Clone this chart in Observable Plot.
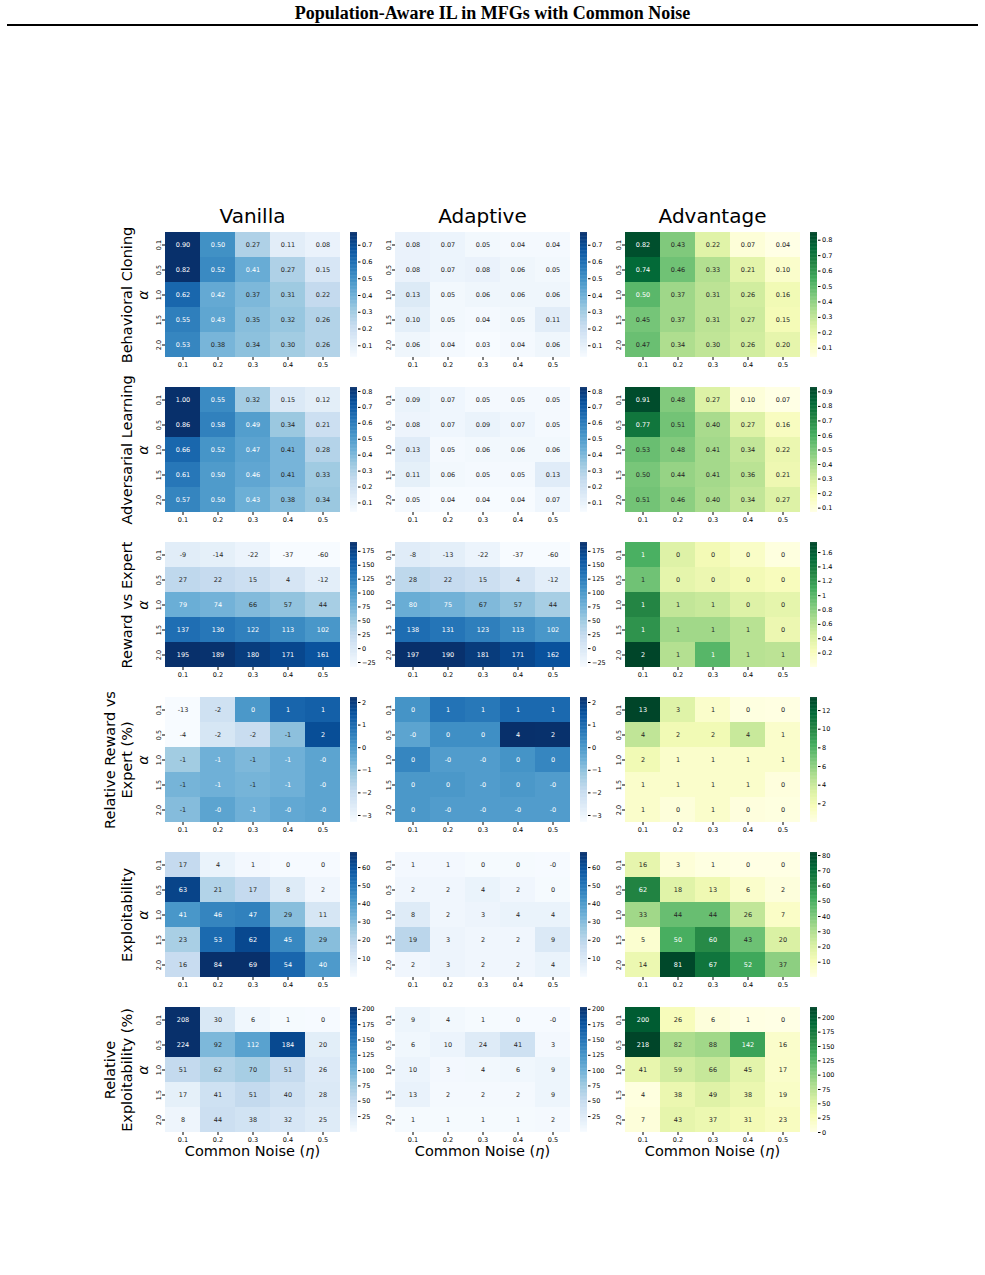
<!DOCTYPE html>
<html>
<head>
<meta charset="utf-8">
<script src="https://cdn.jsdelivr.net/npm/d3@7"></script>
<script src="https://cdn.jsdelivr.net/npm/@observablehq/plot@0.6"></script>
<style>
  body { margin: 0; background: #fff; }
  #page { position: relative; width: 985px; height: 1275px; overflow: hidden; font-family: "DejaVu Sans", sans-serif; color: #000; }
  #page svg { position: absolute; overflow: visible; }
  .lbl { position: absolute; white-space: nowrap; line-height: 1; transform: translate(-50%, -50%); }
  .rot { position: absolute; white-space: nowrap; text-align: center; transform: translate(-50%, -50%) rotate(-90deg); }
  #title { position: absolute; left: 0; width: 985px; top: 3px; text-align: center; font-family: "Liberation Serif", "Times New Roman", serif; font-weight: bold; font-size: 18px; }
  #rule { position: absolute; left: 7px; width: 971px; top: 24px; height: 2px; background: #000; }
</style>
</head>
<body>
<div id="page">
  <div id="title">Population-Aware IL in MFGs with Common Noise</div>
  <div id="rule"></div>
</div>
<script>
// Axis categories
const etas = ["0.1", "0.2", "0.3", "0.4", "0.5"];
const alphas = ["0.1", "0.5", "1.0", "1.5", "2.0"];
const methods = ["Vanilla", "Adaptive", "Advantage"];
const metricNames = [
  ["Behavioral Cloning"],
  ["Adversarial Learning"],
  ["Reward vs Expert"],
  ["Relative Reward vs", "Expert (%)"],
  ["Exploitability"],
  ["Relative", "Exploitability (%)"]
];

// Behavioral cloning (rows: alpha, columns: eta)
const bcVanilla = [[0.90,0.50,0.27,0.11,0.08],[0.82,0.52,0.41,0.27,0.15],[0.62,0.42,0.37,0.31,0.22],[0.55,0.43,0.35,0.32,0.26],[0.53,0.38,0.34,0.30,0.26]];
const bcAdaptive = [[0.08,0.07,0.05,0.04,0.04],[0.08,0.07,0.08,0.06,0.05],[0.13,0.05,0.06,0.06,0.06],[0.10,0.05,0.04,0.05,0.11],[0.06,0.04,0.03,0.04,0.06]];
const bcAdvantage = [[0.82,0.43,0.22,0.07,0.04],[0.74,0.46,0.33,0.21,0.10],[0.50,0.37,0.31,0.26,0.16],[0.45,0.37,0.31,0.27,0.15],[0.47,0.34,0.30,0.26,0.20]];

// Adversarial learning
const alVanilla = [[1.00,0.55,0.32,0.15,0.12],[0.86,0.58,0.49,0.34,0.21],[0.66,0.52,0.47,0.41,0.28],[0.61,0.50,0.46,0.41,0.33],[0.57,0.50,0.43,0.38,0.34]];
const alAdaptive = [[0.09,0.07,0.05,0.05,0.05],[0.08,0.07,0.09,0.07,0.05],[0.13,0.05,0.06,0.06,0.06],[0.11,0.06,0.05,0.05,0.13],[0.05,0.04,0.04,0.04,0.07]];
const alAdvantage = [[0.91,0.48,0.27,0.10,0.07],[0.77,0.51,0.40,0.27,0.16],[0.53,0.48,0.41,0.34,0.22],[0.50,0.44,0.41,0.36,0.21],[0.51,0.46,0.40,0.34,0.27]];

// Reward vs expert
const rwVanilla = [[-9,-14,-22,-37,-60],[27,22,15,4,-12],[79,74,66,57,44],[137,130,122,113,102],[195,189,180,171,161]];
const rwAdaptive = [[-8,-13,-22,-37,-60],[28,22,15,4,-12],[80,75,67,57,44],[138,131,123,113,102],[197,190,181,171,162]];
const rwAdvantage = [[1.05,0.40,0.25,0.15,0.03],[0.90,0.35,0.30,0.25,0.20],[1.30,0.55,0.52,0.40,0.35],[1.22,0.70,0.70,0.60,0.30],[1.74,0.62,1.00,0.60,0.58]];

// Relative reward vs expert (%)
const rrVanilla = [[-13.2,-2.2,0.0,1.1,1.2],[-4.1,-2.4,-2.0,-1.0,1.6],[-1.3,-0.6,-0.8,-0.6,-0.3],[-0.7,-0.6,-0.7,-0.6,-0.3],[-0.9,-0.3,-0.6,-0.4,-0.3]];
const rrAdaptive = [[0.1,0.8,0.7,1.0,1.0],[-0.3,0.2,0.2,4.0,2.2],[0.4,-0.1,-0.1,0.1,0.4],[0.0,0.0,-0.1,0.0,-0.1],[0.0,-0.1,-0.1,-0.1,-0.1]];
const rrAdvantage = [[13.4,3.0,1.0,0.2,0.1],[4.3,2.0,2.0,4.0,1.0],[2.0,1.0,1.0,1.0,1.0],[1.0,1.0,1.0,1.0,0.3],[1.0,0.4,1.0,0.3,0.2]];

// Exploitability
const exVanilla = [[17,4,1,0,0],[63,21,17,8,2],[41,46,47,29,11],[23,53,62,45,29],[16,84,69,54,40]];
const exAdaptive = [[1,1,0.3,0.3,-0.2],[2,2,4,2,0.3],[8,2,3,4,4],[19,3,2,2,9],[2,3,2,2,4]];
const exAdvantage = [[16,3,1,0.3,0.2],[62,18,13,6,2],[33,44,44,26,7],[5,50,60,43,20],[14,81,67,52,37]];

// Relative exploitability (%)
const reVanilla = [[208,30,6,1,0.3],[224,92,112,184,20],[51,62,70,51,26],[17,41,51,40,28],[8,44,38,32,25]];
const reAdaptive = [[9,4,1,0.3,-0.2],[6,10,24,41,3],[10,3,4,6,9],[13,2,2,2,9],[1,1,1,1,2]];
const reAdvantage = [[200,26,6,1,0.2],[218,82,88,142,16],[41,59,66,45,17],[4,38,49,38,19],[7,43,37,31,23]];

// Colour-bar ranges and tick values (Vanilla/Adaptive share one range per metric)
const sharedDomains = [[0.03,0.776],[0.04,0.825],[-34,191],[-3.31,2.22],[-0.5,68.3],[-1,203]];
const advantageDomains = [[0.04,0.85],[0.07,0.93],[0.0,1.74],[0.0,13.4],[0,82],[0,218]];
const sharedTicks = [
  [0.1,0.2,0.3,0.4,0.5,0.6,0.7],
  [0.1,0.2,0.3,0.4,0.5,0.6,0.7,0.8],
  [-25,0,25,50,75,100,125,150,175],
  [-3,-2,-1,0,1,2],
  [10,20,30,40,50,60],
  [25,50,75,100,125,150,175,200]
];
const advantageTicks = [
  [0.1,0.2,0.3,0.4,0.5,0.6,0.7,0.8],
  [0.1,0.2,0.3,0.4,0.5,0.6,0.7,0.8,0.9],
  [0.2,0.4,0.6,0.8,1.0,1.2,1.4,1.6],
  [2,4,6,8,10,12],
  [10,20,30,40,50,60,70,80],
  [0,25,50,75,100,125,150,175,200]
];
const decimals = [2, 2, 0, 0, 0, 0];

// Nine-step sequential palettes, interpolated linearly in RGB
const bluesColors = ["#f7fbff","#deebf7","#c6dbef","#9ecae1","#6baed6","#4292c6","#2171b5","#08519c","#08306b"];
const ylgnColors = ["#ffffe5","#f7fcb9","#d9f0a3","#addd8e","#78c679","#41ab5d","#238443","#006837","#004529"];

const metricValues = [
  [bcVanilla, bcAdaptive, bcAdvantage],
  [alVanilla, alAdaptive, alAdvantage],
  [rwVanilla, rwAdaptive, rwAdvantage],
  [rrVanilla, rrAdaptive, rrAdvantage],
  [exVanilla, exAdaptive, exAdvantage],
  [reVanilla, reAdaptive, reAdvantage]
];

// Layout
const gridLeft = 165, colStep = 230, gridTop = 232, rowStep = 155;
const gridW = 175, gridH = 125;
const hm = {top: 2, right: 2, bottom: 20, left: 22};
const cbW = 7, cbGap = 10;

const page = document.getElementById("page");
const FONT = "DejaVu Sans, sans-serif";

function luminance(c) {
  const f = x => { x /= 255; return x <= 0.03928 ? x / 12.92 : Math.pow((x + 0.055) / 1.055, 2.4); };
  return 0.2126 * f(c.r) + 0.7152 * f(c.g) + 0.0722 * f(c.b);
}

// Colour scale options: palette stops spread evenly across the domain
function colorOptions(domain, colors) {
  const stops = colors.map((_, i) => domain[0] + (domain[1] - domain[0]) * i / (colors.length - 1));
  return {type: "linear", domain: stops, range: colors, interpolate: "rgb", clamp: true};
}

function place(svg, left, top) {
  svg.style.left = left + "px";
  svg.style.top = top + "px";
  page.appendChild(svg);
}

function heatmap(values, domain, colors, digits, left, top) {
  const cells = values.flatMap((row, i) => row.map((v, j) => ({alpha: alphas[i], eta: etas[j], v})));
  const color = colorOptions(domain, colors);
  const lookup = d3.scaleLinear(color.domain, color.range).interpolate(d3.interpolateRgb).clamp(true);
  const darkCell = d => luminance(d3.rgb(lookup(d.v))) <= 0.408;
  const label = d => d.v.toFixed(digits);
  const svg = Plot.plot({
    width: gridW + hm.left + hm.right,
    height: gridH + hm.top + hm.bottom,
    marginTop: hm.top, marginRight: hm.right, marginBottom: hm.bottom, marginLeft: hm.left,
    style: {fontFamily: FONT, fontSize: "6.5px", background: "transparent", color: "#000"},
    x: {type: "band", domain: etas, padding: 0},
    y: {type: "band", domain: alphas, padding: 0},
    color,
    marks: [
      Plot.cell(cells, {x: "eta", y: "alpha", fill: "v", inset: 0}),
      Plot.text(cells.filter(darkCell), {x: "eta", y: "alpha", text: label, fill: "white", fontSize: 6.5}),
      Plot.text(cells.filter(d => !darkCell(d)), {x: "eta", y: "alpha", text: label, fill: "#262626", fontSize: 6.5}),
      Plot.axisX({tickSize: 3, tickPadding: 2, label: null}),
      Plot.axisY({tickSize: 3, tickPadding: 2, tickRotate: -90, label: null})
    ]
  });
  place(svg, left - hm.left, top - hm.top);
}

function colorbar(domain, colors, ticks, left, top) {
  const n = 160;
  const step = (domain[1] - domain[0]) / n;
  const stops = d3.range(n).map(i => domain[0] + i * step);
  const svg = Plot.plot({
    width: cbW + 30, height: gridH + hm.top + hm.bottom,
    marginTop: hm.top, marginBottom: hm.bottom, marginLeft: 0, marginRight: 30,
    style: {fontFamily: FONT, fontSize: "6.5px", background: "transparent", color: "#000"},
    x: {domain: [0, 1], axis: null},
    y: {domain, axis: null},
    color: colorOptions(domain, colors),
    marks: [
      Plot.rect(stops, {x1: 0, x2: 1, y1: d => d, y2: d => Math.min(d + step * 1.6, domain[1]), fill: d => d + step / 2}),
      Plot.axisY(ticks, {anchor: "right", tickSize: 2.5, tickPadding: 2, label: null, tickFormat: d3.format("")})
    ]
  });
  place(svg, left, top - hm.top);
}

function text(str, x, y, style, cls = "lbl") {
  const d = document.createElement("div");
  d.className = cls;
  d.innerHTML = str;
  d.style.left = x + "px";
  d.style.top = y + "px";
  Object.assign(d.style, style);
  page.appendChild(d);
  return d;
}

metricValues.forEach((rowSet, r) => {
  const top = gridTop + r * rowStep;
  rowSet.forEach((vals, c) => {
    const left = gridLeft + c * colStep;
    const adv = c === 2;
    const colors = adv ? ylgnColors : bluesColors;
    const domain = adv ? advantageDomains[r] : sharedDomains[r];
    heatmap(vals, domain, colors, decimals[r], left, top);
    colorbar(domain, colors, adv ? advantageTicks[r] : sharedTicks[r], left + gridW + cbGap, top);
  });
  // metric name and alpha label on the left
  const cy = top + gridH / 2;
  const name = metricNames[r];
  text(name.join("<br>"), name.length > 1 ? 119 : 127, cy, {fontSize: "14.5px", lineHeight: "17px"}, "rot");
  text("α", 143, cy, {fontSize: "14.5px", fontStyle: "italic", lineHeight: "1"}, "rot");
});

methods.forEach((m, c) => {
  const cx = gridLeft + c * colStep + gridW / 2;
  text(m, cx, 216, {fontSize: "20px"});
  text("Common Noise (<i>η</i>)", cx, 1151, {fontSize: "14.5px"});
});
</script>
</body>
</html>
